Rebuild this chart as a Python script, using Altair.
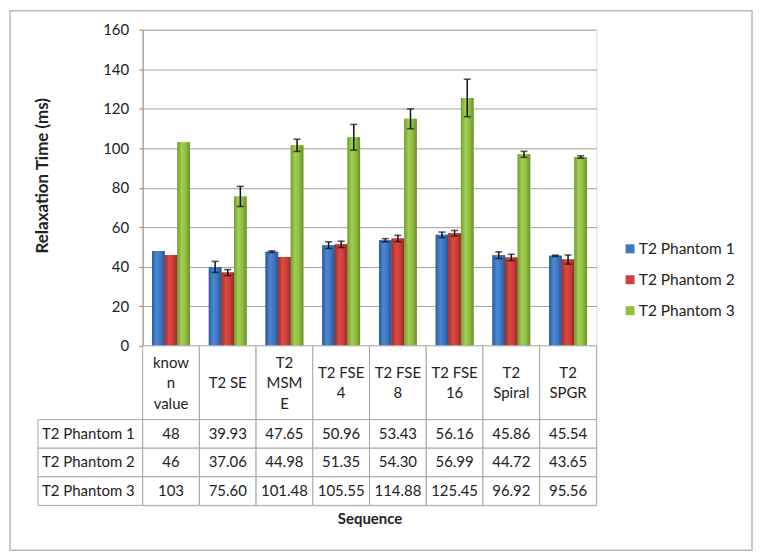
import altair as alt
import pandas as pd

categories = ["known value", "T2 SE", "T2 MSME", "T2 FSE 4", "T2 FSE 8",
              "T2 FSE 16", "T2 Spiral", "T2 SPGR"]
header_labels = ["know\nn\nvalue", "T2 SE", "T2\nMSM\nE", "T2 FSE\n4",
                 "T2 FSE\n8", "T2 FSE\n16", "T2\nSpiral", "T2\nSPGR"]
series = ["T2 Phantom 1", "T2 Phantom 2", "T2 Phantom 3"]

p1 = [48, 39.93, 47.65, 50.96, 53.43, 56.16, 45.86, 45.54]
p2 = [46, 37.06, 44.98, 51.35, 54.30, 56.99, 44.72, 43.65]
p3 = [103, 75.60, 101.48, 105.55, 114.88, 125.45, 96.92, 95.56]

# error bar half-widths (0 = no bar drawn)
e1 = [0, 2.8, 0.4, 1.7, 0.8, 1.4, 1.7, 0.3]
e2 = [0, 1.5, 0, 1.6, 1.6, 1.4, 1.6, 2.3]
e3 = [0, 5.1, 3.1, 6.5, 5.0, 9.5, 1.5, 0.6]

base_colors = ["#3C78C3", "#CF3F3A", "#93C043"]
gradients = [
    ["#2C5B98", "#4A88D3", "#3E78C2", "#2A5590"],
    ["#A22E2A", "#DC4942", "#CC3F38", "#962824"],
    ["#749B33", "#A2CF50", "#90BE42", "#6B902E"],
]

rows = []
for s, vals, errs in zip(series, [p1, p2, p3], [e1, e2, e3]):
    for i, (c, v, e) in enumerate(zip(categories, vals, errs)):
        rows.append({
            "category": c, "series": s, "value": v, "err": e,
            "lo": v - e, "hi": v + e,
            "label": str(int(v)) if i == 0 else f"{v:.2f}",
        })
df = pd.DataFrame(rows)
hdr = pd.DataFrame({"category": categories, "header": header_labels})
hdr["nlines"] = hdr["header"].str.count("\n") + 1
frame_df = pd.DataFrame({"k": [0]})

FONT = "Lato"
GRID = "#a0a0a0"
LINE = "#a8a8a8"

x_top = alt.X("category:N", sort=categories, axis=None,
              scale=alt.Scale(paddingInner=1/3, paddingOuter=1/6))
xoff = alt.XOffset("series:N", sort=series,
                   scale=alt.Scale(domain=series, paddingInner=0, paddingOuter=0))
Y_AXIS = alt.Axis(values=list(range(0, 161, 20)), title="Relaxation Time (ms)",
                  labelOverlap=False,
                  grid=True, gridColor=GRID, gridWidth=1,
                  domainColor="#888", tickColor="#888", tickSize=4,
                  labelFontSize=15, labelColor="#222", labelPadding=10,
                  labelFont=FONT, titleFont=FONT, titleFontSize=17,
                  titleFontWeight="bold", titleColor="#222",
                  titleX=-100, titleY=146, titleAngle=-90,
                  titleAlign="center", titleBaseline="middle")
Y_SCALE = alt.Scale(domain=[0, 160], nice=False)


def yq(field):
    return alt.Y(f"{field}:Q", scale=Y_SCALE, axis=Y_AXIS)


base = alt.Chart(df).mark_bar().encode(
    x=x_top, xOffset=xoff, y=yq("value"),
    color=alt.Color("series:N", sort=series,
                    scale=alt.Scale(domain=series, range=base_colors),
                    legend=alt.Legend(title=None, orient="none", legendX=481, legendY=212,
                                      symbolType="square", symbolSize=81,
                                      symbolStrokeWidth=0, labelFont=FONT,
                                      labelFontSize=15.5, labelColor="#222",
                                      labelOffset=1, rowPadding=14, padding=0)),
)

layers = [base]
for s, g in zip(series, gradients):
    grad = {"gradient": "linear", "x1": 0, "x2": 1, "y1": 0, "y2": 0,
            "stops": [{"offset": 0, "color": g[0]}, {"offset": 0.35, "color": g[1]},
                      {"offset": 0.65, "color": g[2]}, {"offset": 1, "color": g[3]}]}
    layers.append(
        alt.Chart(df).transform_filter(alt.datum.series == s)
        .mark_bar(fill=grad, strokeWidth=0)
        .encode(x=x_top, xOffset=xoff, y=yq("value"))
    )

err = alt.Chart(df).transform_filter(alt.datum.err > 0)
layers.append(err.mark_rule(color="#111", strokeWidth=1.5).encode(
    x=x_top, xOffset=xoff, y=yq("lo"), y2="hi:Q"))
layers.append(err.mark_tick(color="#111", size=7, thickness=1.6).encode(
    x=x_top, xOffset=xoff, y=yq("lo")))
layers.append(err.mark_tick(color="#111", size=7, thickness=1.6).encode(
    x=x_top, xOffset=xoff, y=yq("hi")))

top = alt.layer(*layers).properties(width=455, height=317)

# ---------- data table ----------
x_tab = alt.X("category:N", sort=categories,
              scale=alt.Scale(paddingInner=0, paddingOuter=0),
              axis=alt.Axis(labels=False, ticks=False, domain=False, title="Sequence",
                            titleFont=FONT, titleFontSize=15, titleFontWeight="bold",
                            titleColor="#222", titlePadding=6))
y_tab = alt.Y("series:N", sort=series, axis=None,
              scale=alt.Scale(domain=series, range=[74, 160],
                              paddingInner=0, paddingOuter=0))

HDR_MID = 37.5
LH = 20.5
hdr_cells = alt.Chart(hdr).mark_rect(fill="white", stroke=LINE, strokeWidth=1).encode(
    x=x_tab, y=alt.value(0), y2=alt.value(74))
hdr_layers = []
for n in (1, 2, 3):
    hdr_layers.append(
        alt.Chart(hdr).transform_filter(alt.datum.nlines == n)
        .mark_text(font=FONT, fontSize=15, color="#222", lineBreak="\n",
                   lineHeight=LH, baseline="middle")
        .encode(x=x_tab, y=alt.value(HDR_MID - (n - 1) * LH / 2), text="header:N")
    )
cells = alt.Chart(df).mark_rect(fill="white", stroke=LINE, strokeWidth=1).encode(
    x=x_tab, y=y_tab)
cell_text = alt.Chart(df).mark_text(font=FONT, fontSize=15, color="#222",
                                    baseline="middle").encode(
    x=x_tab, y=y_tab, text="label:N")
lab_df = pd.DataFrame({"series": series})
lab_cells = alt.Chart(lab_df).mark_rect(fill="white", stroke=LINE, strokeWidth=1).encode(
    x=alt.value(-105), x2=alt.value(0), y=y_tab)
lab_text = alt.Chart(lab_df).mark_text(font=FONT, fontSize=15, color="#222",
                                       align="left", baseline="middle").encode(
    x=alt.value(-101), y=y_tab, text="series:N")
frame = alt.Chart(frame_df).mark_rect(fillOpacity=0, stroke="#b8b8b8",
                                      strokeWidth=1.5).encode(
    x=alt.value(-133), x2=alt.value(611), y=alt.value(-336), y2=alt.value(205))

table = alt.layer(hdr_cells, *hdr_layers, cells, cell_text, lab_cells, lab_text, frame
                  ).properties(width=455, height=160)

chart = alt.vconcat(top, table, spacing=0, bounds="flush").properties(
    padding={"left": 0, "top": 0, "right": 0, "bottom": 0}
).configure_view(stroke=None).configure(background="white")

chart.save("out.html", embed_options={"renderer": "svg", "actions": False})
